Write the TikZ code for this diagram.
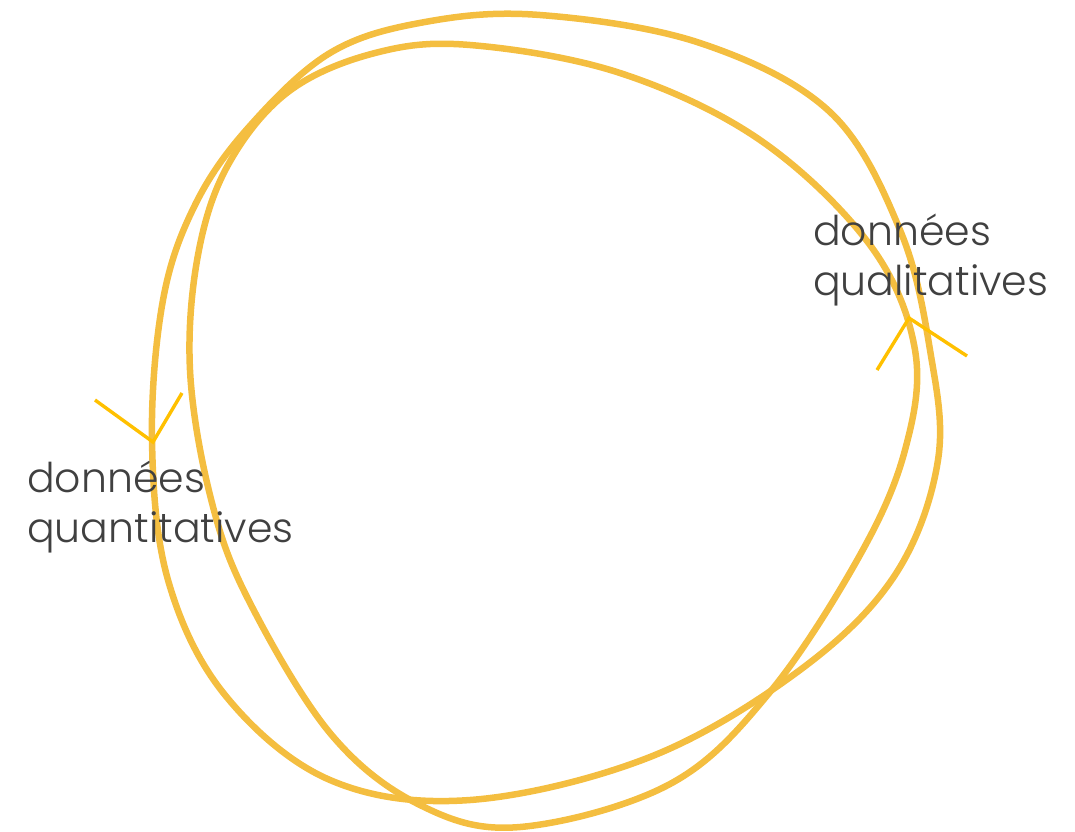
\documentclass[tikz,border=0pt]{standalone}
\usepackage{fontspec}
\setmainfont{Poppins}[UprightFont=* Light]
\definecolor{loopcol}{RGB}{244,190,64}
\definecolor{arrowcol}{RGB}{255,192,0}
\definecolor{txtcol}{RGB}{64,64,64}
\tikzset{
  loopline/.style={draw=loopcol, line width=6.5pt, line join=round},
  headline/.style={draw=arrowcol, line width=3.4pt, line join=miter},
  lbl/.style={anchor=base west, align=left, text=txtcol, inner sep=0pt,
    font=\fontsize{41}{50}\selectfont}
}
\begin{document}
\begin{tikzpicture}[x=1pt,y=-1pt]
\useasboundingbox (0,0) rectangle (1075,831);
% loop 1 (outer at top, right and left)
\draw[loopline] plot[smooth cycle, tension=0.6] coordinates {
 (540,15) (700,43) (830,112) (900,230) (930,350) (938,460) (895,575)
 (800,670) (650,757) (470,800) (330,780) (225,695) (168,580) (152,440)
 (163,300) (195,205) (248,128) (330,53) (425,22)};
% loop 2 (inner at top, right and left; outer at bottom)
\draw[loopline] plot[smooth cycle, tension=0.6] coordinates {
 (470,45) (620,73) (760,140) (870,245) (915,350) (905,450) (860,555)
 (770,692) (670,784) (520,827) (420,805) (330,733) (247,597) (210,495)
 (190,370) (198,255) (228,165) (288,92) (375,53)};
% arrowheads
\coordinate (ha1) at (877,370);
\coordinate (hv1) at (909,318);
\coordinate (hb1) at (967,356);
\coordinate (ha2) at (95,400);
\coordinate (hv2) at (153,442);
\coordinate (hb2) at (182,393);
\draw[headline] (ha1) -- (hv1) -- (hb1);
\draw[headline] (ha2) -- (hv2) -- (hb2);
% labels (base anchor = baseline of the last line)
\node[lbl] (qual) at (813,295) {données\\qualitatives};
\node[lbl] (quant) at (27,542) {données\\quantitatives};
\end{tikzpicture}
\end{document}
